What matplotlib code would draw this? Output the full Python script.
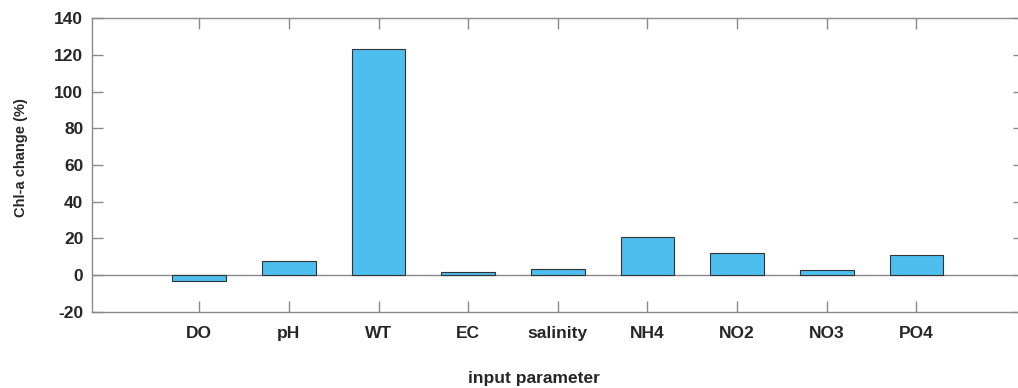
import matplotlib
matplotlib.use("Agg")
import matplotlib.pyplot as plt

categories = ["DO", "pH", "WT", "EC", "salinity", "NH4", "NO2", "NO3", "PO4"]
values = [-3.0, 7.6, 123.0, 1.6, 3.1, 20.9, 11.8, 2.7, 10.7]
yticks = [-20, 0, 20, 40, 60, 80, 100, 120, 140]

plt.rcParams['font.family'] = ['Liberation Sans', 'DejaVu Sans']
plt.rcParams['font.weight'] = 'bold'
plt.rcParams['axes.unicode_minus'] = False

W, H = 1018, 388
fig = plt.figure(figsize=(W / 100, H / 100), dpi=100)
left, right, top, bottom = 91.7, 1024.0, 18.3, 311.7
ax = fig.add_axes([left / W, 1 - bottom / H, (right - left) / W, (bottom - top) / H])

pos = list(range(1, len(categories) + 1))
ax.bar(pos, values, width=0.6, color='#4DBEEE', edgecolor='#333333', linewidth=0.8, zorder=3)
ax.axhline(0, color='#8a8a8a', linewidth=1.0, zorder=2)

ax.set_xlim(-0.2, 10.2)
ax.set_ylim(-20, 140)
ax.set_xticks(pos)
ax.set_xticklabels(categories)
ax.set_yticks(yticks)

for s in ax.spines.values():
    s.set_color('#8a8a8a')
    s.set_linewidth(1.0)

ax.tick_params(axis='both', direction='in', length=8, width=1.0, color='#8a8a8a',
               labelsize=12.5, labelcolor='#262626', top=True, right=True)
ax.tick_params(axis='x', pad=10)
ax.tick_params(axis='y', pad=6)
for lab in ax.get_xticklabels() + ax.get_yticklabels():
    lab.set_fontweight('bold')

fig.text(21 / W, 1 - 158 / H, 'Chl-a change (%)', rotation=90, ha='center', va='center',
         fontsize=10.5, fontweight='bold', color='#262626')
fig.text(533.5 / W, 1 - 379 / H, 'input parameter', ha='center', va='center',
         fontsize=12.5, fontweight='bold', color='#262626')

fig.savefig('out.png', dpi=100)
